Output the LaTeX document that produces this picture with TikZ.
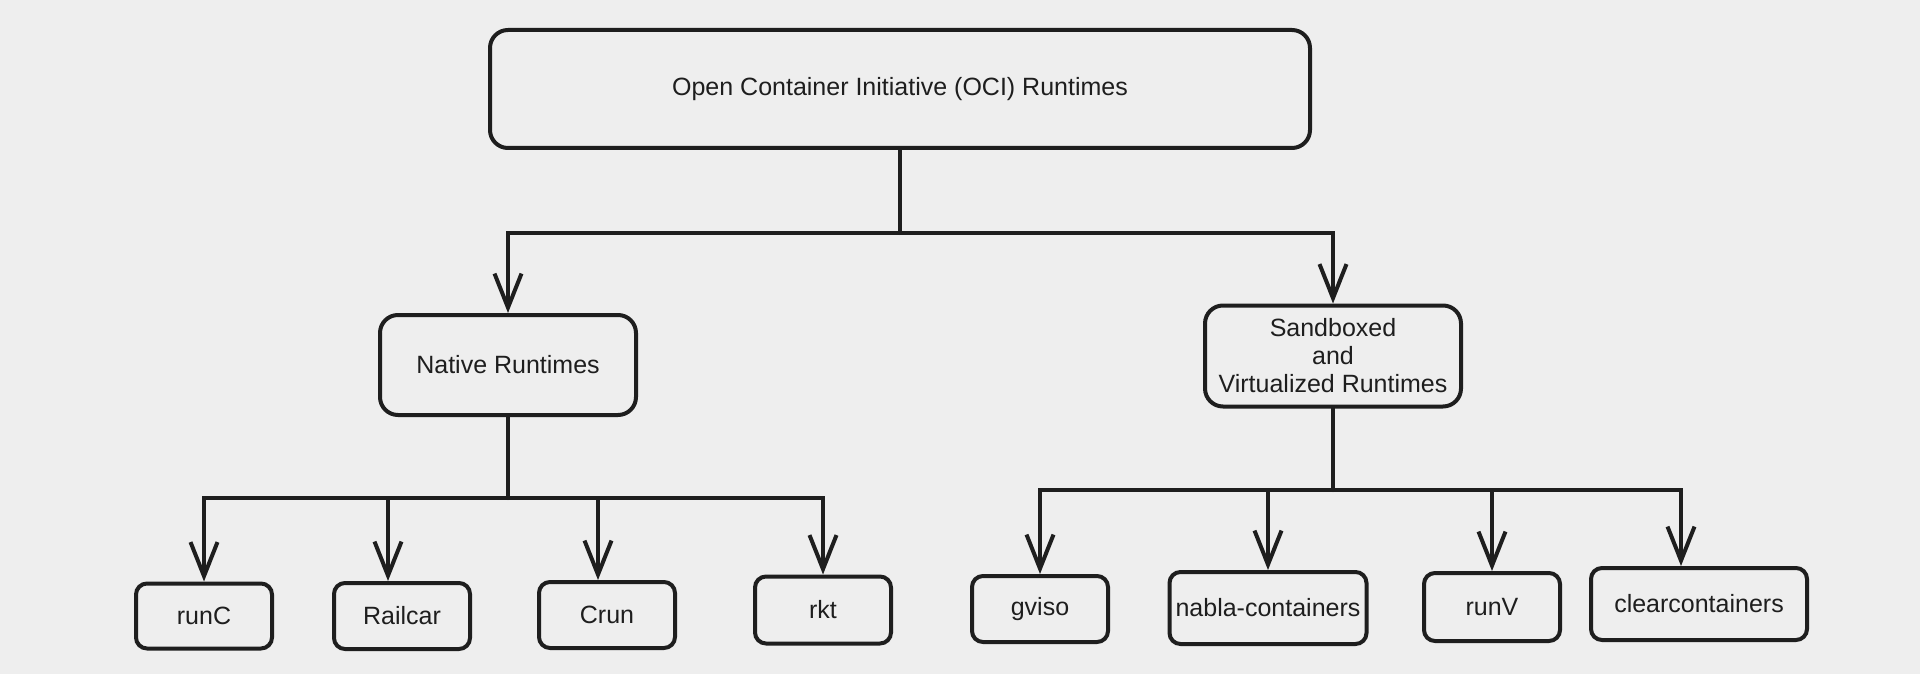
\documentclass[tikz,border=0pt]{standalone}
\usepackage{fontspec}
\setmainfont{Liberation Sans}
\usetikzlibrary{arrows.meta}
\definecolor{paper}{HTML}{EEEEEE}
\definecolor{ink}{HTML}{1E1E1E}
\begin{document}
\begin{tikzpicture}[x=1pt, y=-1pt,
    box/.style={draw=ink, line width=4pt, rounded corners=18pt, fill=paper, text=ink,
        align=center, inner sep=1pt, font=\fontsize{25}{28}\selectfont},
    leaf/.style={box, rounded corners=11pt, minimum width=136pt, minimum height=66pt},
    link/.style={draw=ink, line width=4pt, line cap=round},
    arrow/.style={link, -{Straight Barb[length=34pt, width=27pt]}}]

    % Background
    \fill[paper] (0,0) rectangle (1920,674);
    \useasboundingbox (0,0) rectangle (1920,674);

    % Root
    \node[box, minimum width=820pt, minimum height=118pt] (oci) at (900,89)
        {Open Container Initiative (OCI) Runtimes};

    % Two families
    \node[box, minimum width=256pt, minimum height=100pt] (native) at (508,365)
        {Native Runtimes};
    \node[box, minimum width=256pt, minimum height=101pt] (sandbox) at (1333,356)
        {Sandboxed\\and\\Virtualized Runtimes};

    % Native runtimes
    \node[leaf, minimum height=65pt] (runc) at (204,616) {runC};
    \node[leaf] (railcar) at (402,616) {Railcar};
    \node[leaf] (crun) at (607,615) {Crun};
    \node[leaf, minimum height=67pt] (rkt) at (823,610) {rkt};

    % Sandboxed runtimes
    \node[leaf] (gviso) at (1040,609) {gviso};
    \node[leaf, minimum width=197pt, minimum height=72pt] (nabla) at (1268,608) {nabla-containers};
    \node[leaf, minimum height=68pt] (runv) at (1492,607) {runV};
    \node[leaf, minimum width=216pt, minimum height=72pt] (clear) at (1699,604) {clearcontainers};

    % Connectors
    \coordinate (rootsplit) at (900,233);
    \coordinate (nativesplit) at (508,498);
    \coordinate (sandsplit) at (1333,490);

    \draw[link] (oci.south) -- (rootsplit);
    \draw[arrow] (rootsplit) -| (native.north);
    \draw[arrow] (rootsplit) -| (sandbox.north);

    \draw[link] (native.south) -- (nativesplit);
    \draw[arrow] (nativesplit) -| (runc.north);
    \draw[arrow] (nativesplit) -| ([xshift=-14pt]railcar.north);
    \draw[arrow] (nativesplit) -| ([xshift=-9pt]crun.north);
    \draw[arrow] (nativesplit) -| (rkt.north);

    \draw[link] (sandbox.south) -- (sandsplit);
    \draw[arrow] (sandsplit) -| (gviso.north);
    \draw[arrow] (sandsplit) -| (nabla.north);
    \draw[arrow] (sandsplit) -| (runv.north);
    \draw[arrow] (sandsplit) -| ([xshift=-18pt]clear.north);
\end{tikzpicture}
\end{document}
